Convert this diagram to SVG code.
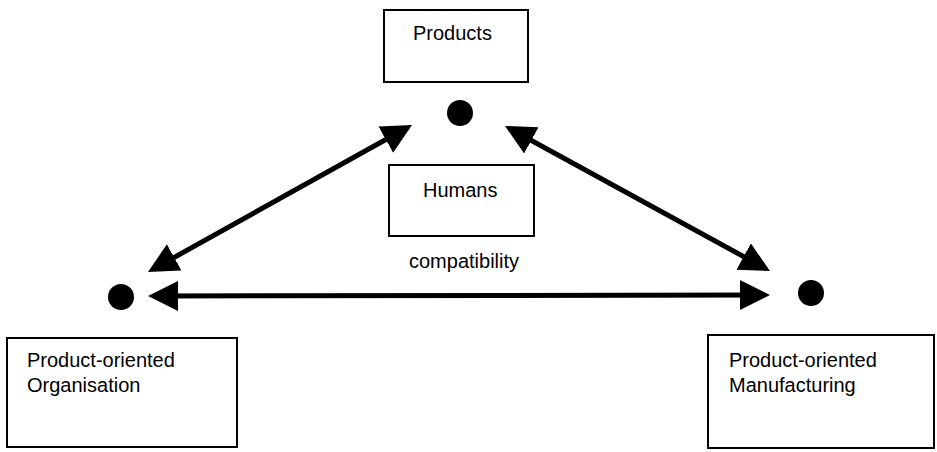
<svg xmlns="http://www.w3.org/2000/svg" width="937" height="452" viewBox="0 0 937 452">
<style>
.box{fill:#fff;stroke:#000;stroke-width:2}
.t{font-family:"Liberation Sans",Arial,sans-serif;font-size:20px;fill:#000}
.dot{fill:#000}
.conn{stroke:#000;stroke-width:5;fill:none}
</style>
<defs>
<marker id="ah" markerUnits="userSpaceOnUse" markerWidth="32" markerHeight="32" refX="15" refY="15" orient="auto-start-reverse" viewBox="0 0 32 32">
<path d="M0,0 L30,15 L0,30 Z" fill="#000"/>
</marker>
</defs>
<rect width="937" height="452" fill="#fff"/>
<g id="products">
<rect class="box" x="384" y="10" width="144" height="72"/>
<text class="t" x="413" y="40">Products</text>
<circle class="dot" cx="460" cy="113" r="13"/>
</g>
<g id="humans">
<rect class="box" x="389" y="165" width="145" height="71"/>
<text class="t" x="423" y="197">Humans</text>
</g>
<g id="organisation">
<rect class="box" x="7" y="338" width="230" height="109"/>
<text class="t" x="27" y="367">Product-oriented</text>
<text class="t" x="27" y="392">Organisation</text>
<circle class="dot" cx="121" cy="297" r="13"/>
</g>
<g id="manufacturing">
<rect class="box" x="708" y="335" width="226" height="113"/>
<text class="t" x="729" y="367">Product-oriented</text>
<text class="t" x="729" y="392">Manufacturing</text>
<circle class="dot" cx="811" cy="293" r="13"/>
</g>
<g id="connectors">
<line class="conn" x1="161.1" y1="264.7" x2="398.9" y2="132.3" marker-start="url(#ah)" marker-end="url(#ah)"/>
<line class="conn" x1="518.2" y1="133.2" x2="756.8" y2="263.8" marker-start="url(#ah)" marker-end="url(#ah)"/>
<line class="conn" x1="163" y1="296" x2="755" y2="295" marker-start="url(#ah)" marker-end="url(#ah)"/>
<text class="t" x="409" y="268">compatibility</text>
</g>
</svg>
